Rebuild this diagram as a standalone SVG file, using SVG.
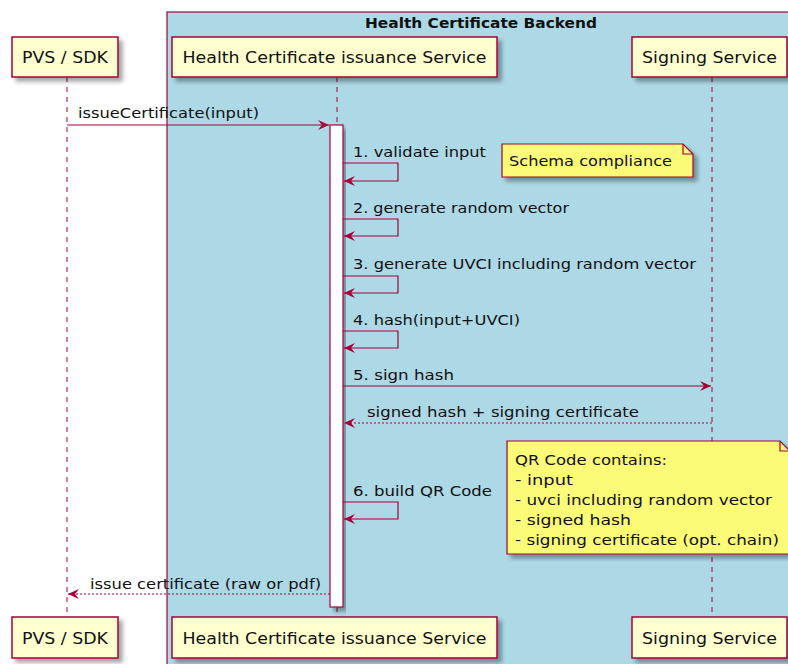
<svg xmlns="http://www.w3.org/2000/svg" width="788" height="664" viewBox="0 0 788 664">
<defs>
<filter id="sh" x="-10%" y="-10%" width="130%" height="140%">
<feGaussianBlur in="SourceAlpha" stdDeviation="2"/>
<feOffset dx="4" dy="4" result="o"/>
<feComponentTransfer><feFuncA type="linear" slope="0.35"/></feComponentTransfer>
<feMerge><feMergeNode/><feMergeNode in="SourceGraphic"/></feMerge>
</filter>
<marker id="ah" viewBox="0 0 12 10" refX="11" refY="5" markerWidth="12" markerHeight="10" markerUnits="userSpaceOnUse" orient="auto">
<path d="M0,0 L11,5 L0,10 L4,5 Z" fill="#A80036"/>
</marker>
</defs>
<style>
text{font-family:"DejaVu Sans","Liberation Sans",sans-serif;fill:#111}
.p{fill:#FEFECE;stroke:#A80036;stroke-width:1.5}
.pt{font-size:16px;text-anchor:middle}
.lbl{font-size:14px}
.life{stroke:#A80036;stroke-width:1;stroke-dasharray:5,5;fill:none}
.msg{stroke:#A80036;stroke-width:1.2;fill:none}
.ret{stroke:#A80036;stroke-width:1.2;fill:none;stroke-dasharray:2,2}
.note{fill:#FBFB77;stroke:#A80036;stroke-width:1.2}
</style>
<rect width="788" height="664" fill="#ffffff"/>
<g id="backend">
<rect x="167" y="12" width="630" height="660" fill="#ADD8E6" stroke="#A80036" stroke-width="1.2"/>
<text x="481" y="28" font-size="14" font-weight="bold" text-anchor="middle" textLength="232" lengthAdjust="spacingAndGlyphs">Health Certificate Backend</text>
</g>
<g id="lifelines">
<line class="life" x1="67" y1="77" x2="67" y2="617"/>
<line class="life" x1="337" y1="77" x2="337" y2="617"/>
<line class="life" x1="712" y1="77" x2="712" y2="617"/>
</g>
<g id="activation">
<rect x="330" y="125" width="13" height="482" fill="#ffffff" stroke="#A80036" stroke-width="1.2" filter="url(#sh)"/>
</g>
<g id="pvs-top">
<rect class="p" x="12" y="37" width="106" height="40" filter="url(#sh)"/>
<text class="pt" x="65" y="63" textLength="86" lengthAdjust="spacingAndGlyphs">PVS / SDK</text>
</g>
<g id="hcis-top">
<rect class="p" x="172" y="37" width="325" height="40" filter="url(#sh)"/>
<text class="pt" x="334.5" y="63" textLength="304" lengthAdjust="spacingAndGlyphs">Health Certificate issuance Service</text>
</g>
<g id="sign-top">
<rect class="p" x="632" y="37" width="155" height="40" filter="url(#sh)"/>
<text class="pt" x="709.5" y="63" textLength="135" lengthAdjust="spacingAndGlyphs">Signing Service</text>
</g>
<g id="pvs-bottom">
<rect class="p" x="12" y="617" width="106" height="41" filter="url(#sh)"/>
<text class="pt" x="65" y="644" textLength="86" lengthAdjust="spacingAndGlyphs">PVS / SDK</text>
</g>
<g id="hcis-bottom">
<rect class="p" x="172" y="617" width="325" height="41" filter="url(#sh)"/>
<text class="pt" x="334.5" y="644" textLength="304" lengthAdjust="spacingAndGlyphs">Health Certificate issuance Service</text>
</g>
<g id="sign-bottom">
<rect class="p" x="632" y="617" width="155" height="41" filter="url(#sh)"/>
<text class="pt" x="709.5" y="644" textLength="135" lengthAdjust="spacingAndGlyphs">Signing Service</text>
</g>
<g id="note-schema">
<path class="note" d="M502,144 L683,144 L693,154 L693,177 L502,177 Z" filter="url(#sh)"/>
<path d="M683,144 L683,154 L693,154" fill="none" stroke="#A80036" stroke-width="1.2"/>
<text class="lbl" x="509" y="166" textLength="163" lengthAdjust="spacingAndGlyphs">Schema compliance</text>
</g>
<g id="note-qr">
<path class="note" d="M507,441 L780,441 L790,451 L790,554 L507,554 Z" filter="url(#sh)"/>
<path d="M780,441 L780,451 L790,451" fill="none" stroke="#A80036" stroke-width="1.2"/>
<text class="lbl" x="515" y="465" textLength="152" lengthAdjust="spacingAndGlyphs">QR Code contains:</text>
<text class="lbl" x="515" y="485" textLength="58" lengthAdjust="spacingAndGlyphs">- input</text>
<text class="lbl" x="515" y="505" textLength="257" lengthAdjust="spacingAndGlyphs">- uvci including random vector</text>
<text class="lbl" x="515" y="525" textLength="116" lengthAdjust="spacingAndGlyphs">- signed hash</text>
<text class="lbl" x="515" y="545" textLength="264" lengthAdjust="spacingAndGlyphs">- signing certificate (opt. chain)</text>
</g>
<g id="connectors">
<line class="msg" x1="67" y1="125" x2="329" y2="125" marker-end="url(#ah)"/>
<text class="lbl" x="78" y="118" textLength="181" lengthAdjust="spacingAndGlyphs">issueCertificate(input)</text>
<path class="msg" d="M343,163 L398,163 L398,181 L344,181" marker-end="url(#ah)"/>
<text class="lbl" x="353" y="157" textLength="133" lengthAdjust="spacingAndGlyphs">1. validate input</text>
<path class="msg" d="M343,219 L398,219 L398,236 L344,236" marker-end="url(#ah)"/>
<text class="lbl" x="353" y="213" textLength="216" lengthAdjust="spacingAndGlyphs">2. generate random vector</text>
<path class="msg" d="M343,276 L398,276 L398,293 L344,293" marker-end="url(#ah)"/>
<text class="lbl" x="353" y="269" textLength="343" lengthAdjust="spacingAndGlyphs">3. generate UVCI including random vector</text>
<path class="msg" d="M343,331 L398,331 L398,348 L344,348" marker-end="url(#ah)"/>
<text class="lbl" x="353" y="325" textLength="167" lengthAdjust="spacingAndGlyphs">4. hash(input+UVCI)</text>
<line class="msg" x1="343" y1="386" x2="711" y2="386" marker-end="url(#ah)"/>
<text class="lbl" x="353" y="380" textLength="101" lengthAdjust="spacingAndGlyphs">5. sign hash</text>
<line class="ret" x1="712" y1="423" x2="344" y2="423" marker-end="url(#ah)"/>
<text class="lbl" x="367" y="417" textLength="272" lengthAdjust="spacingAndGlyphs">signed hash + signing certificate</text>
<path class="msg" d="M343,502 L398,502 L398,519 L344,519" marker-end="url(#ah)"/>
<text class="lbl" x="353" y="496" textLength="139" lengthAdjust="spacingAndGlyphs">6. build QR Code</text>
<line class="ret" x1="330" y1="594" x2="68" y2="594" marker-end="url(#ah)"/>
<text class="lbl" x="90" y="589" textLength="231" lengthAdjust="spacingAndGlyphs">issue certificate (raw or pdf)</text>
</g>
</svg>
